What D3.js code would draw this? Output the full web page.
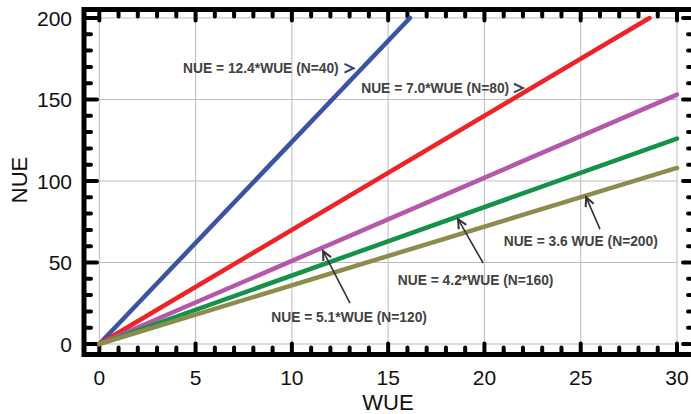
<!DOCTYPE html>
<html>
<head>
<meta charset="utf-8">
<script src="https://cdn.jsdelivr.net/npm/d3@7"></script>
<style>
  body { margin: 0; background: #fff; }
  svg { display: block; font-family: "Liberation Sans", Arial, sans-serif; }
</style>
</head>
<body>
<div id="chart"></div>
<script>
// Fitted lines NUE = slope * WUE
const seriesNames = ['N=40', 'N=80', 'N=120', 'N=160', 'N=200'];
const slopes = [12.4, 7.0, 5.1, 4.2, 3.6];
const seriesColors = ['#3a54a5', '#ee2327', '#b558a9', '#14924a', '#8c8c4c'];

const xTicks = [0, 5, 10, 15, 20, 25, 30];
const yTicks = [0, 50, 100, 150, 200];

// Annotation text and where it points, in data units (WUE, NUE)
const noteTexts = [
  'NUE = 12.4*WUE (N=40)',
  'NUE = 7.0*WUE (N=80)',
  'NUE = 5.1*WUE (N=120)',
  'NUE = 4.2*WUE (N=160)',
  'NUE = 3.6 WUE (N=200)'
];
const noteAt = [[4.35, 166.5], [13.6, 153.7], [8.93, 13.5], [15.5, 36.0], [21.0, 60.0]];
const arrowFrom = [null, null, [13.02, 25.1], [19.93, 49.7], [26.0, 70.5]];
const arrowTo = [[13.2, 169.2], [22.0, 157.0], [11.62, 57.0], [18.63, 76.6], [25.28, 90.1]];

const W = 691, H = 414;
const x = d3.scaleLinear().domain([0, 30]).range([99.3, 677]);
const y = d3.scaleLinear().domain([0, 200]).range([344, 18]);

const svg = d3.select('#chart').append('svg')
  .attr('width', W).attr('height', H);

// Grid
const grid = svg.append('g').attr('stroke', '#bdbdbd').attr('stroke-width', 1);
xTicks.forEach(t => {
  grid.append('line').attr('x1', x(t)).attr('x2', x(t)).attr('y1', y(0)).attr('y2', y(200));
});
yTicks.forEach(t => {
  grid.append('line').attr('x1', x(0)).attr('x2', x(30)).attr('y1', y(t)).attr('y2', y(t));
});

// Frame
const frame = { left: 84, top: 9.5, right: 694, bottom: 354.5 };
svg.append('rect')
  .attr('x', frame.left).attr('y', frame.top)
  .attr('width', frame.right - frame.left).attr('height', frame.bottom - frame.top)
  .attr('fill', 'none').attr('stroke', '#000').attr('stroke-width', 5);

// Inward ticks on all four sides
const tickG = svg.append('g').attr('stroke', '#000').attr('stroke-width', 4).attr('stroke-linecap', 'round');
d3.range(0, 31, 1).forEach(v => {
  const major = v % 5 === 0;
  const len = major ? 9 : 5;
  tickG.append('line').attr('x1', x(v)).attr('x2', x(v))
    .attr('y1', frame.top + 2).attr('y2', frame.top + 2 + len);
  tickG.append('line').attr('x1', x(v)).attr('x2', x(v))
    .attr('y1', frame.bottom - 2).attr('y2', frame.bottom - 2 - len);
});
d3.range(0, 201, 10).forEach(v => {
  const major = v % 50 === 0;
  tickG.append('line').attr('y1', y(v)).attr('y2', y(v))
    .attr('x1', frame.left + 2).attr('x2', frame.left + 2 + (major ? 11 : 5));
  tickG.append('line').attr('y1', y(v)).attr('y2', y(v))
    .attr('x1', 690).attr('x2', 690 - (major ? 7 : 2));
});

// Tick labels
svg.append('g').selectAll('text').data(xTicks).join('text')
  .attr('x', d => x(d)).attr('y', 385)
  .attr('text-anchor', 'middle').attr('font-size', 21).attr('fill', '#111')
  .text(d => d);
svg.append('g').selectAll('text').data(yTicks).join('text')
  .attr('x', 72).attr('y', d => y(d) + 7.5)
  .attr('text-anchor', 'end').attr('font-size', 21).attr('fill', '#111')
  .text(d => d);

// Axis titles
svg.append('text').attr('x', 388).attr('y', 410)
  .attr('text-anchor', 'middle').attr('font-size', 22).attr('fill', '#111').text('WUE');
svg.append('text').attr('transform', 'translate(27,180) rotate(-90)')
  .attr('text-anchor', 'middle').attr('font-size', 22).attr('fill', '#111').text('NUE');

// Regression lines
const line = d3.line().x(d => x(d[0])).y(d => y(d[1]));
slopes.forEach((s, i) => {
  const xEnd = Math.min(30, 200 / s);
  svg.append('path')
    .datum([[0, 0], [xEnd, s * xEnd]])
    .attr('d', line)
    .attr('fill', 'none')
    .attr('stroke', seriesColors[i])
    .attr('stroke-width', 4.5)
    .attr('stroke-linecap', 'round')
    .attr('class', 'series-' + seriesNames[i]);
});

// Annotations
const notes = svg.append('g');
noteTexts.forEach((t, i) => {
  notes.append('text')
    .attr('x', x(noteAt[i][0])).attr('y', y(noteAt[i][1]))
    .attr('font-size', 13.8).attr('font-weight', 'bold').attr('fill', '#424242')
    .text(t);
  const tip = [x(arrowTo[i][0]), y(arrowTo[i][1])];
  let ang, col;
  if (arrowFrom[i]) {
    const tail = [x(arrowFrom[i][0]), y(arrowFrom[i][1])];
    ang = Math.atan2(tip[1] - tail[1], tip[0] - tail[0]);
    col = '#333';
    notes.append('line')
      .attr('x1', tail[0]).attr('y1', tail[1]).attr('x2', tip[0]).attr('y2', tip[1])
      .attr('stroke', col).attr('stroke-width', 1.6);
  } else {
    ang = 0;
    col = i === 0 ? '#2b3a8f' : '#444';
  }
  const hl = 10, spread = 0.45;
  const p1 = [tip[0] - hl * Math.cos(ang - spread), tip[1] - hl * Math.sin(ang - spread)];
  const p2 = [tip[0] - hl * Math.cos(ang + spread), tip[1] - hl * Math.sin(ang + spread)];
  notes.append('path')
    .attr('d', `M${p1[0]},${p1[1]}L${tip[0]},${tip[1]}L${p2[0]},${p2[1]}`)
    .attr('fill', 'none').attr('stroke', col).attr('stroke-width', 2)
    .attr('stroke-linejoin', 'miter');
});
</script>
</body>
</html>
